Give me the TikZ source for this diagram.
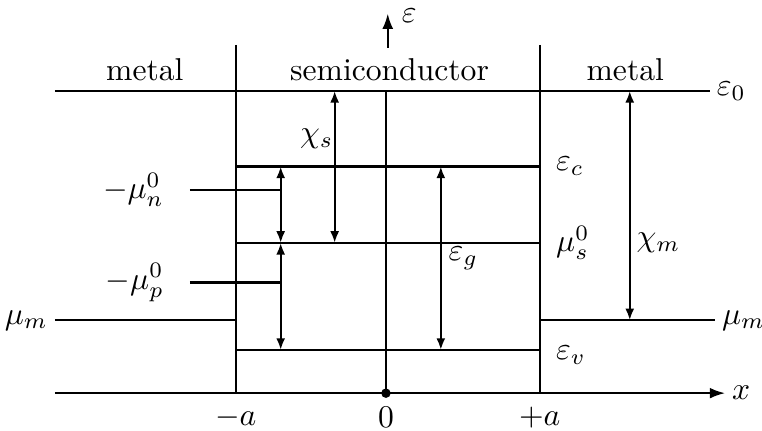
\documentclass[tikz,border=0pt]{standalone}
\usepackage{amsmath,amssymb}
\usetikzlibrary{arrows.meta,positioning,calc}

\begin{document}
\begin{tikzpicture}[
  level/.style={line width=0.7pt},
  span/.style={line width=0.7pt,{Latex[length=1.3mm,width=1mm]}-{Latex[length=1.3mm,width=1mm]}},
  tag/.style={inner sep=2pt}]
\useasboundingbox (-4.29,-0.42) rectangle (4.18,4.37);
% Metal - semiconductor - metal band diagram
% interfaces at -a and +a
\coordinate (aLtop) at (-1.67,3.87);
\coordinate (aLbot) at (-1.67,0);
\coordinate (aRtop) at (1.71,3.87);
\coordinate (aRbot) at (1.71,0);
% energy levels
\coordinate (e0L) at (-3.68,3.36);
\coordinate (e0R) at (3.60,3.36);
\coordinate (ecL) at (-1.67,2.52);
\coordinate (ecR) at (1.71,2.52);
\coordinate (msL) at (-1.67,1.67);
\coordinate (msR) at (1.71,1.67);
\coordinate (evL) at (-1.67,0.48);
\coordinate (evR) at (1.71,0.48);
\coordinate (mmL) at (-3.68,0.81);
\coordinate (mmR) at (3.66,0.81);
% axes
\coordinate (xL) at (-3.68,0);
\coordinate (xR) at (3.77,0);
\coordinate (O) at (0,0);
\coordinate (Otop) at (0,3.36);
\coordinate (epsB) at (0.02,3.84);
\coordinate (epsT) at (0.02,4.22);

\draw[level] (aLtop) -- (aLbot);
\draw[level] (aRtop) -- (aRbot);
\draw[level] (e0L) -- (e0R);
\draw[level] (ecL) -- (ecR);
\draw[level] (msL) -- (msR);
\draw[level] (evL) -- (evR);
\draw[level] (mmL) -- (aLbot |- mmL);
\draw[level] (aRbot |- mmR) -- (mmR);
\draw[level] (O) -- (Otop);
\draw[line width=0.7pt,-{Latex[length=1.7mm,width=1.2mm]}] (xL) -- (xR);
\draw[line width=0.7pt,-{Latex[length=1.7mm,width=1.2mm]}] (epsB) -- (epsT);
\fill (O) circle (1.5pt);

% regions
\node[tag] (metL) at (-2.68,3.59) {metal};
\node[tag] (semi) at (0.04,3.59) {semiconductor};
\node[tag] (metR) at (2.66,3.59) {metal};

% level labels
\node[tag,right] (le0) at (e0R) {$\varepsilon_0$};
\node[tag,right=3pt] (lec) at (ecR) {$\varepsilon_c$};
\node[tag,right=3pt] (lms) at (msR) {$\mu_s^0$};
\node[tag,right=3pt] (lev) at ($(evR)+(0,-0.06)$) {$\varepsilon_v$};
\node[tag,left] (lmL) at (mmL) {$\mu_m$};
\node[tag,right] (lmR) at (mmR) {$\mu_m$};
\node[tag,right] (lx) at (xR) {$x$};
\node[tag,right] (leps) at (0.1,4.2) {$\varepsilon$};

% chemical potentials
\coordinate (mnA) at (-2.18,2.26);
\coordinate (mnB) at (-1.17,2.26);
\coordinate (mpA) at (-2.18,1.23);
\coordinate (mpB) at (-1.17,1.23);
\draw[level] (mnA) -- (mnB);
\draw[level] (mpA) -- (mpB);
\node[tag,left=6pt] (lmn) at (mnA) {$-\mu_n^0$};
\node[tag,left=6pt] (lmp) at (mpA) {$-\mu_p^0$};

% gaps
\draw[span] (ecL -| mnB) -- (msL -| mnB);
\draw[span] (msL -| mnB) -- (evL -| mnB);
\draw[span] (e0L -| -0.57,0) -- (msL -| -0.57,0);
\draw[span] (ecL -| 0.61,0) -- (evL -| 0.61,0);
\draw[span] (e0L -| 2.71,0) -- (mmR -| 2.71,0);
\node[tag] (lchis) at (-0.77,2.83) {$\chi_s$};
\node[tag] (leg) at (0.86,1.5) {$\varepsilon_g$};
\node[tag] (lchim) at (3.03,1.67) {$\chi_m$};

% positions
\node[tag] (lma) at (-1.67,-0.27) {$-a$};
\node[tag] (l0) at (0,-0.27) {$0$};
\node[tag] (lpa) at (1.71,-0.27) {$+a$};
\end{tikzpicture}
\end{document}
